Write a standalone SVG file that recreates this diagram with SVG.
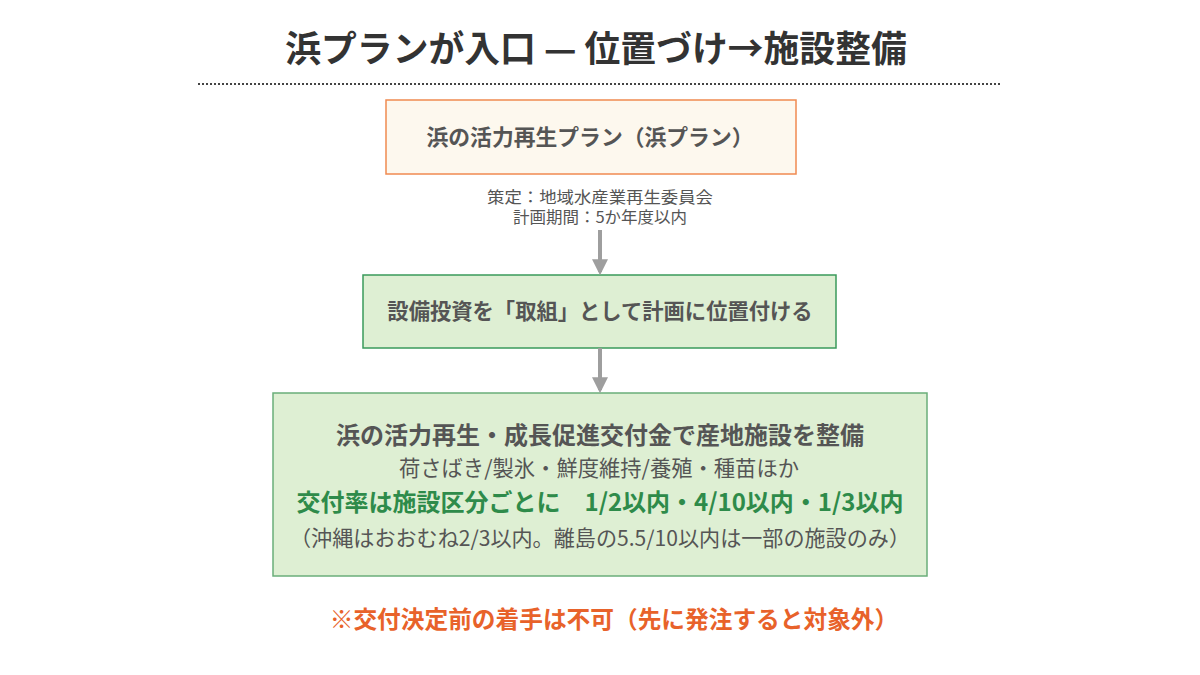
<svg xmlns="http://www.w3.org/2000/svg" width="1200" height="675" viewBox="0 0 1200 675">
<style>
text{font-family:"Noto Sans CJK JP","Noto Sans",sans-serif;text-anchor:middle;fill:#555}
.b{font-weight:bold}
.c{stroke:#9e9e9e;stroke-width:4;fill:none}
</style>
<defs><marker id="ah" viewBox="0 0 10 10" refX="8" refY="5" markerWidth="4" markerHeight="4" orient="auto" markerUnits="strokeWidth"><path d="M0,0L10,5L0,10z" fill="#9e9e9e"/></marker></defs>
<rect width="1200" height="675" fill="#fff"/>
<text class="b" x="596" y="62" font-size="35.8" style="fill:#333">浜プランが入口 — 位置づけ→施設整備</text>
<line x1="198" y1="84" x2="1002" y2="84" stroke="#444" stroke-width="2" stroke-dasharray="2,2"/>
<g id="n1"><rect x="386" y="100" width="410" height="74" fill="#fdf8ee" stroke="#f08a50" stroke-width="1.5"/><text class="b" x="590" y="145" font-size="21.8">浜の活力再生プラン（浜プラン）</text></g>
<g id="note"><text x="600" y="203" font-size="16" textLength="226" lengthAdjust="spacingAndGlyphs">策定：地域水産業再生委員会</text><text x="600" y="223" font-size="16" textLength="174" lengthAdjust="spacingAndGlyphs">計画期間：5か年度以内</text></g>
<g id="n2"><rect x="363" y="275" width="473" height="73" fill="#deefd3" stroke="#3a9a5b" stroke-width="1.5"/><text class="b" x="600" y="319" font-size="21.3">設備投資を「取組」として計画に位置付ける</text></g>
<g id="n3"><rect x="273" y="393" width="654" height="183" fill="#deefd3" stroke="#6aae7a" stroke-width="1.5"/>
<text class="b" x="600" y="444" font-size="24">浜の活力再生・成長促進交付金で産地施設を整備</text>
<text x="599" y="476" font-size="21.3">荷さばき/製氷・鮮度維持/養殖・種苗ほか</text>
<text class="b" x="600" y="511" font-size="24" style="fill:#2e8b4a">交付率は施設区分ごとに　1/2以内・4/10以内・1/3以内</text>
<text x="600" y="546" font-size="21.1">（沖縄はおおむね2/3以内。離島の5.5/10以内は一部の施設のみ）</text></g>
<g id="connectors"><line class="c" x1="600" y1="230" x2="600" y2="272" marker-end="url(#ah)"/><line class="c" x1="600" y1="348" x2="600" y2="390" marker-end="url(#ah)"/></g>
<text class="b" x="614" y="628" font-size="23.7" style="fill:#e8622a">※交付決定前の着手は不可（先に発注すると対象外）</text>
</svg>
